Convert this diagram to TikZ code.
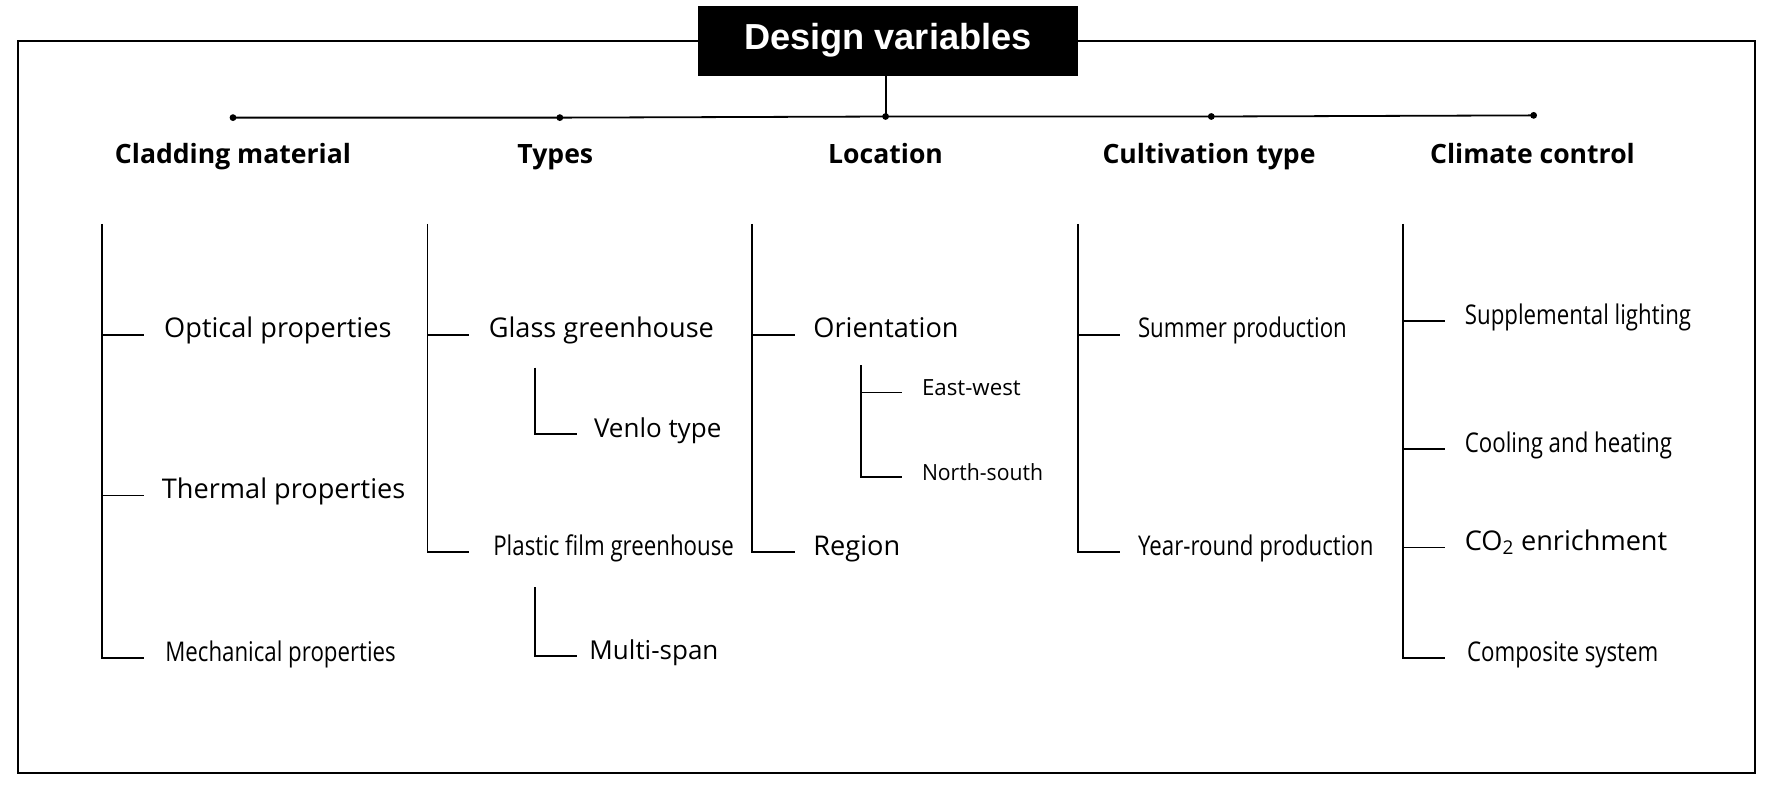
\documentclass[tikz,border=0pt]{standalone}
\usepackage{fontspec}
\setmainfont{Open Sans}
\newfontfamily\condfam[FakeStretch=0.82]{Open Sans}
\newfontfamily\subcfam[FakeStretch=0.95]{Open Sans}
\newfontfamily\titlefam{Liberation Sans}
\begin{document}
\begin{tikzpicture}[x=1pt,y=-1pt,
  ln/.style={line width=1.8pt,black},
  dotn/.style={circle,fill=black,inner sep=0,minimum size=6pt},
  txt/.style={inner sep=0,text height=0.56em,text depth=0pt},
  hdr/.style={inner sep=0,text height=0.68em,text depth=0pt,font=\fontsize{23.5}{28}\selectfont\bfseries},
  itm/.style={txt,font=\fontsize{24}{28}\selectfont,anchor=west},
  itms/.style={txt,font=\fontsize{23}{27}\selectfont,anchor=west},
  itmc/.style={txt,font=\condfam\fontsize{24}{28}\selectfont,anchor=west},
  subi/.style={txt,font=\fontsize{19.7}{23}\selectfont,anchor=west},
  subc/.style={txt,font=\subcfam\fontsize{19.7}{23}\selectfont,anchor=west}]
\useasboundingbox (0,0) rectangle (1774,784);
\fill[white] (0,0) rectangle (1774,784);
% frame
\draw[ln] (18,41) rectangle (1755,773);
\begin{scope}[scale=1.131,transform shape]
% title
\node[fill=black,text=white,minimum width=336pt,minimum height=62pt,inner sep=0,
  font=\titlefam\fontsize{32}{36}\selectfont\bfseries] (title) at (785,36) {Design variables};
% top bar with dots
\node[dotn] (d1) at (206,104) {};
\node[dotn] (d2) at (495,104) {};
\node[dotn] (d3) at (783,103) {};
\node[dotn] (d4) at (1071,103) {};
\node[dotn] (d5) at (1356,102) {};
\draw[ln] (d1.center) -- (d2.center) -- (d3.center) -- (d4.center) -- (d5.center);
\draw[ln] (title.south -| d3) -- (d3.center);
% headers
\node[hdr] (h1) at (206,141) {Cladding material};
\node[hdr] (h2) at (491,141) {Types};
\node[hdr] (h3) at (783,141) {Location};
\node[hdr] (h4) at (1069,141) {Cultivation type};
\node[hdr] (h5) at (1355,141) {Climate control};
% spine tops
\coordinate (t1) at (90,198);
\coordinate (t2) at (378,198);
\coordinate (t3) at (665,198);
\coordinate (t4) at (953,198);
\coordinate (t5) at (1240,198);
% cladding
\node[itm] (opt) at (145,296) {Optical properties};
\node[itm] (thm) at (143,438) {Thermal properties};
\node[itmc] (mech) at (146,582) {Mechanical properties};
\draw[ln] (t1) |- ([xshift=-19pt]mech.west);
\draw[ln] (t1 |- opt.west) -- ([xshift=-18pt]opt.west);
\draw[ln] (t1 |- thm.west) -- ([xshift=-16pt]thm.west);
% types
\node[itm] (glass) at (432,296) {Glass greenhouse};
\node[itmc] (plastic) at (436,488) {Plastic film greenhouse};
\node[itms] (venlo) at (525,384) {Venlo type};
\node[itms] (multi) at (521,580) {Multi-span};
\draw[ln] (t2) |- ([xshift=-21pt]plastic.west);
\draw[ln] (t2 |- glass.west) -- ([xshift=-17pt]glass.west);
\coordinate (v1) at (473,325);
\coordinate (m1) at (473,519);
\draw[ln] (v1) |- ([xshift=-15pt]venlo.west);
\draw[ln] (m1) |- ([xshift=-11pt]multi.west);
% location
\node[itm] (orient) at (719,296) {Orientation};
\node[itm] (region) at (719,488) {Region};
\node[subi] (ew) at (815,347) {East-west};
\node[subc] (ns) at (815,422) {North-south};
\draw[ln] (t3) |- ([xshift=-16pt]region.west);
\draw[ln] (t3 |- orient.west) -- ([xshift=-16pt]orient.west);
\coordinate (o1) at (761,323);
\draw[ln] (o1) |- ([xshift=-18pt]ns.west);
\draw[ln] (o1 |- ew.west) -- ([xshift=-18pt]ew.west);
% cultivation
\node[itmc] (summer) at (1006,296) {Summer production};
\node[itmc] (year) at (1006,488) {Year-round production};
\draw[ln] (t4) |- ([xshift=-16pt]year.west);
\draw[ln] (t4 |- summer.west) -- ([xshift=-16pt]summer.west);
% climate
\node[itmc] (sup) at (1295,284) {Supplemental lighting};
\node[itmc] (cool) at (1295,397) {Cooling and heating};
\node[itm] (co2) at (1295,484) {CO\textsubscript{2} enrichment};
\node[itmc] (comp) at (1297,582) {Composite system};
\draw[ln] (t5) |- ([xshift=-20pt]comp.west);
\draw[ln] (t5 |- sup.west) -- ([xshift=-18pt]sup.west);
\draw[ln] (t5 |- cool.west) -- ([xshift=-18pt]cool.west);
\draw[ln] (t5 |- co2.west) -- ([xshift=-18pt]co2.west);
\end{scope}
\end{tikzpicture}
\end{document}
